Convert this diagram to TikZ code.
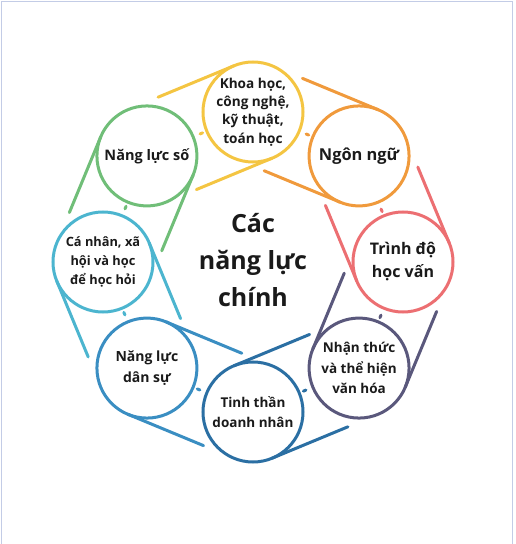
\documentclass[tikz,border=0pt]{standalone}
\usepackage{fontspec}
\setmainfont{Open Sans}
\usepackage{tikz}
\usetikzlibrary{calc}
\usepackage{xcolor}
\definecolor{sunyellow}{HTML}{F4C542}
\definecolor{warmorange}{HTML}{F09A3C}
\definecolor{softred}{HTML}{EC6F72}
\definecolor{slatepurple}{HTML}{5A587C}
\definecolor{deepblue}{HTML}{2B6FA3}
\definecolor{midblue}{HTML}{3A8EC2}
\definecolor{skycyan}{HTML}{4CB5CF}
\definecolor{leafgreen}{HTML}{70BE78}
\definecolor{framegray}{HTML}{C3CCE6}
\definecolor{inkblack}{HTML}{1A1A1A}

\begin{document}
\begin{tikzpicture}[
    x=1pt, y=1pt,
    circStyle/.style={circle, draw, line width=3pt, minimum size=100pt, inner sep=0pt, align=center, text=inkblack},
    beltStyle/.style={line width=3pt, line cap=round},
    dotStyle/.style={line width=3pt, line cap=round, shorten <=3pt, shorten >=6pt}
]
    \useasboundingbox (-253,-282) rectangle (263,262);
    % Frame
    \draw[framegray, line width=1pt] (-251,-300) rectangle (259,260);

    % Circles
    \node[circStyle, draw=sunyellow, font=\bfseries\fontsize{13.6}{18.3}\selectfont] (sci) at (90:150) {Khoa học,\\công nghệ,\\kỹ thuật,\\toán học};
    \node[circStyle, draw=warmorange, font=\bfseries\fontsize{16.4}{23}\selectfont] (lang) at (45:150) {Ngôn ngữ};
    \node[circStyle, draw=softred, font=\bfseries\fontsize{16}{23}\selectfont] (edu) at (0:150) {Trình độ\\học vấn};
    \node[circStyle, draw=slatepurple, font=\bfseries\fontsize{13.5}{20.5}\selectfont] (cult) at (-45:150) {Nhận thức\\và thể hiện\\văn hóa};
    \node[circStyle, draw=deepblue, font=\bfseries\fontsize{13.5}{20}\selectfont] (entr) at (-90:150) {Tinh thần\\doanh nhân};
    \node[circStyle, draw=midblue, font=\bfseries\fontsize{14}{20.7}\selectfont] (civic) at (-135:150) {Năng lực\\dân sự};
    \node[circStyle, draw=skycyan, font=\bfseries\fontsize{12.8}{18.7}\selectfont] (pers) at (180:150) {Cá nhân, xã\\hội và học\\để học hỏi};
    \node[circStyle, draw=leafgreen, font=\bfseries\fontsize{14.5}{20}\selectfont] (digi) at (135:150) {Năng lực số};

    % Centre title
    \node[align=center, text=inkblack, font=\bfseries\fontsize{25}{37}\selectfont] (title) at (0,2) {Các\\năng lực\\chính};

    % Belts
    \draw[beltStyle, sunyellow] ($(sci)+(112.5:50)$) -- ++(202.5:82) ($(sci)+(292.5:50)$) -- ++(202.5:82);
    \draw[beltStyle, warmorange] ($(lang)+(67.5:50)$) -- ++(157.5:82) ($(lang)+(247.5:50)$) -- ++(157.5:82);
    \draw[beltStyle, softred] ($(edu)+(22.5:50)$) -- ++(112.5:82) ($(edu)+(202.5:50)$) -- ++(112.5:82);
    \draw[beltStyle, slatepurple] ($(cult)+(-22.5:50)$) -- ++(67.5:82) ($(cult)+(157.5:50)$) -- ++(67.5:82);
    \draw[beltStyle, deepblue] ($(entr)+(-67.5:50)$) -- ++(22.5:82) ($(entr)+(112.5:50)$) -- ++(22.5:82);
    \draw[beltStyle, midblue] ($(civic)+(-112.5:50)$) -- ++(-22.5:82) ($(civic)+(67.5:50)$) -- ++(-22.5:82);
    \draw[beltStyle, skycyan] ($(pers)+(202.5:50)$) -- ++(292.5:82) ($(pers)+(22.5:50)$) -- ++(292.5:82);
    \draw[beltStyle, leafgreen] ($(digi)+(157.5:50)$) -- ++(247.5:82) ($(digi)+(337.5:50)$) -- ++(247.5:82);

    % Short links
    \draw[dotStyle, sunyellow] (sci) -- (digi);
    \draw[dotStyle, warmorange] (lang) -- (sci);
    \draw[dotStyle, softred] (edu) -- (lang);
    \draw[dotStyle, slatepurple] (cult) -- (edu);
    \draw[dotStyle, deepblue] (entr) -- (cult);
    \draw[dotStyle, midblue] (civic) -- (entr);
    \draw[dotStyle, skycyan] (pers) -- (civic);
    \draw[dotStyle, leafgreen] (digi) -- (pers);
\end{tikzpicture}
\end{document}
